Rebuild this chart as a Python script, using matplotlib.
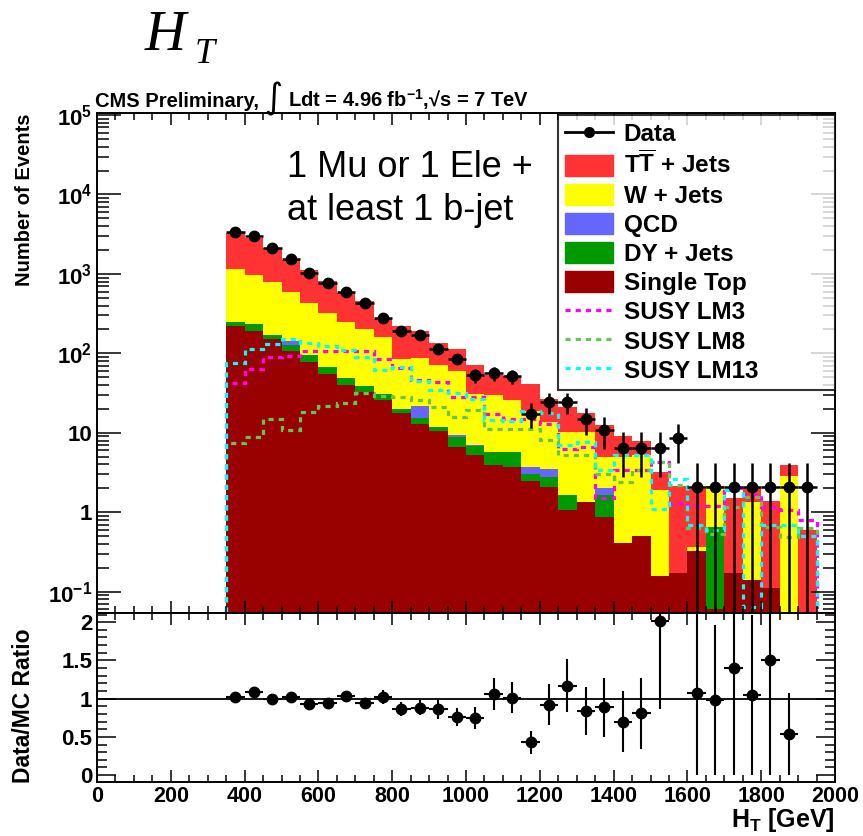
import numpy as np
import matplotlib
matplotlib.use("Agg")
import matplotlib.pyplot as plt
from matplotlib.lines import Line2D
from matplotlib.patches import Patch
from matplotlib.ticker import FixedLocator, LogLocator, MultipleLocator

plt.rcParams.update({
    "font.family": ["Liberation Sans", "DejaVu Sans"],
    "font.weight": "bold",
    "mathtext.fontset": "custom",
    "mathtext.rm": "Liberation Sans:bold",
    "mathtext.bf": "Liberation Sans:bold",
    "mathtext.it": "Liberation Sans:italic:bold",
})

# --- binning (GeV) -------------------------------------------------------------
EDGES = np.arange(350, 1951, 50)
CENTERS = np.arange(375, 1926, 50)

# --- stacked backgrounds, events per bin (bottom -> top) -----------------------
single_top = [220, 190, 150, 107, 78, 55, 40, 33, 26, 18, 13.1, 10.6, 6.6, 5.2, 3.9, 3.7,
              2.48, 2.08, 1.06, 1.35, 0.87, 0.41, 0.51, 0.16, 0.17, 0.33, 0.06, 0.17,
              0.14, 0.11, 0, 0]
dy_jets = [30, 41, 20, 19, 17, 12, 9, 6, 5, 2, 2.1, 1.3, 2.3, 1.6, 1.85, 2.1,
           0.59, 0.7, 0.58, 0, 0.77, 0, 0, 0, 0, 0, 0.59, 0, 0, 0, 0, 0]
qcd = [0, 0, 0, 16, 0, 0, 0, 0, 0, 0, 6.4, 0, 0.4, 0.2, 0, 0,
       0.65, 0.72, 0, 0, 0.41, 0, 0, 0, 0, 0, 0, 0, 0, 0, 0, 0]
w_jets = [900, 749, 625, 443, 341, 251, 196, 166, 131, 66, 66.4, 59.1, 50.7, 24, 24.25, 20.2,
          15.3, 10.2, 8.66, 8.95, 2.92, 4.59, 4.69, 1.77, 0, 0.035, 1.35, 0, 1.21, 0, 2.84, 0]
tt_jets = [2170, 1820, 1315, 925, 684, 492, 323, 255, 108, 136, 105, 63, 53, 40, 23, 25.5,
           21.7, 13, 10.7, 7.6, 7.43, 4.2, 2.8, 1.27, 1.95, 1.585, 0.14, 1.33, 0.65, 1.29,
           1.06, 0.59]

# --- SUSY benchmark points ---------------------------------------------------
lm3 = [42, 63, 90, 92, 107, 107, 107, 107, 85, 65, 46, 44, 28, 28, 17.5, 15, 15, 13,
       6.2, 6.6, 1.5, 3.4, 3.4, 4.3, 1.3, 1.2, 1.2, 2.0, 1.64, 1.17, 1.06, 0.79]
lm8 = [7.5, 8.8, 15, 10.7, 18.3, 22, 23.8, 31.8, 29, 28, 25.7, 21, 15.8, 19.2, 11.3, 11.3,
       11.3, 8.1, 5.2, 5.2, 3.0, 2.4, 3.4, 4.3, 2.2, 0.63, 0.54, 1.17, 1.56, 0.65, 0.49, 0.63]
lm13 = [76, 112, 133, 150, 135, 123, 110, 90, 61, 67, 45, 35, 32, 27, 14.4, 14, 19, 18,
        7, 7.7, 3.4, 5.2, 5.2, 1.1, 2.65, 0.69, 0.59, 1.89, 0.064, 0.69, 0.69, 0.5]

# --- data ---------------------------------------------------------------------
data = [3390, 3030, 2090, 1540, 1040, 760, 585, 436, 275, 191, 170, 115, 86, 53, 56, 52,
        17.5, 24.6, 24.6, 15, 11, 6.45, 6.45, 6.45, 8.5, 2.1, 2.1, 2.1, 2.1, 2.1, 2.1, 2.1]
data_err = [85, 80, 67, 57, 47, 40, 35, 30, 24, 20, 19, 16, 13.5, 10.6, 11, 10.5,
            6.1, 7.2, 7.2, 5.7, 4.8, 3.7, 3.7, 3.7, 4.3, 2.1, 2.1, 2.1, 2.1, 2.1, 2.1, 2.1]

STACK = [("Single Top", single_top, "#990000"),
         ("DY + Jets", dy_jets, "#009900"),
         ("QCD", qcd, "#6666ff"),
         ("W + Jets", w_jets, "#ffff00"),
         (r"T$\overline{\mathbf{T}}$ + Jets", tt_jets, "#ff3333")]
SUSY = [("SUSY LM3", lm3, "#ff00ff"),
        ("SUSY LM8", lm8, "#66c552"),
        ("SUSY LM13", lm13, "#00ffff")]

W, H = 863, 836
fig = plt.figure(figsize=(W / 100, H / 100), dpi=100)
ax = fig.add_axes([97 / W, 1 - 613 / H, 738 / W, 500 / H])
rax = fig.add_axes([97 / W, 1 - 782 / H, 738 / W, 169 / H], sharex=ax)

# stacked histogram
bottom = np.zeros(len(CENTERS))
for name, vals, col in STACK:
    top = bottom + np.asarray(vals, float)
    ax.stairs(top, EDGES, baseline=bottom.copy(), fill=True, color=col, lw=0)
    bottom = top
total = bottom

for name, vals, col in SUSY:
    ax.stairs(vals, EDGES, baseline=0, color=col, lw=2.3, ls=(0, (1.6, 1.6)))

dat = np.asarray(data, float)
derr = np.asarray(data_err, float)
ax.errorbar(CENTERS, dat, yerr=derr, xerr=25, fmt="o", color="k", ms=7.5,
            elinewidth=1.8, capsize=0, zorder=5)

ax.set_yscale("log")
ax.set_xlim(0, 2000)
ax.set_ylim(0.054, 1.06e5)
ax.yaxis.set_major_locator(FixedLocator([0.1, 1, 10, 100, 1e3, 1e4, 1e5]))
ax.set_yticklabels([r"$\mathbf{10^{-1}}$", "1", "10", r"$\mathbf{10^{2}}$",
                    r"$\mathbf{10^{3}}$", r"$\mathbf{10^{4}}$", r"$\mathbf{10^{5}}$"])
ax.yaxis.set_minor_locator(LogLocator(base=10, subs=np.arange(2, 10)))
ax.yaxis.set_minor_formatter(plt.NullFormatter())
ax.tick_params(axis="y", which="major", length=17, width=1.1, labelsize=16)
ax.tick_params(axis="y", which="minor", length=8.5, width=1.1)
ax.tick_params(axis="x", which="both", labelbottom=False)

# ratio panel
ratio = dat / total
rerr = derr / total
show = ratio < 2.12
rax.errorbar(CENTERS[show], ratio[show], yerr=rerr[show], xerr=25, fmt="o", color="k",
             ms=7.5, elinewidth=1.5, capsize=0, zorder=5)
rax.axhline(1, color="k", lw=1.3)
rax.set_ylim(-0.09, 2.12)
rax.set_yticks([0, 0.5, 1, 1.5, 2])
rax.set_yticklabels(["0", "0.5", "1", "1.5", "2"])
rax.yaxis.set_minor_locator(MultipleLocator(0.1))
rax.tick_params(axis="y", which="major", length=14, width=1.1, labelsize=16)
rax.tick_params(axis="y", which="minor", length=7, width=1.1)
rax.set_xticks(range(0, 2001, 200))
rax.xaxis.set_minor_locator(MultipleLocator(50))
rax.tick_params(axis="x", which="major", labelsize=15.5, pad=3)

for a in (ax, rax):
    a.tick_params(which="both", direction="in", top=True, right=True)
    a.tick_params(axis="x", which="major", length=8.6, width=1.1)
    a.tick_params(axis="x", which="minor", length=5, width=1.1)
    for s in a.spines.values():
        s.set_linewidth(1.4)

# labels / annotations
fig.text(24 / W, 1 - 113 / H, "Number of Events", rotation=90, ha="center", va="top",
         fontsize=14.5)
fig.text(24 / W, 1 - 706 / H, "Data/MC Ratio", rotation=90, ha="center", va="center",
         fontsize=16.5)
fig.text(835 / W, 1 - 834 / H, r"H$_{\mathbf{T}}$ [GeV]", ha="right", va="bottom",
         fontsize=18)
fig.text(145 / W, 1 - 50 / H, "H", fontfamily="Liberation Serif", style="italic",
         weight="normal", fontsize=41, va="baseline")
fig.text(195 / W, 1 - 63 / H, "T", fontfamily="Liberation Serif", style="italic",
         weight="normal", fontsize=26, va="baseline")
fig.text(95 / W, 1 - 107 / H, "CMS Preliminary,", fontsize=14.5, va="baseline")
fig.text(264 / W, 1 - 116 / H, "\u222b", fontfamily="DejaVu Sans", weight="normal",
         fontsize=25, va="bottom")
fig.text(288 / W, 1 - 107 / H, "Ldt = 4.96 fb$^{\\mathbf{-1}}$,\u221as = 7 TeV",
         fontsize=14.5, va="baseline")
fig.text(287 / W, 1 - 189 / H, "1 Mu or 1 Ele +\nat least 1 b-jet", ha="left",
         va="center", fontsize=26, weight="normal", linespacing=1.3)

# legend
handles = [Line2D([], [], color="k", marker="o", ms=7, lw=2)]
labels = ["Data"]
for name, vals, col in STACK[::-1]:
    handles.append(Patch(color=col))
    labels.append(name)
for name, vals, col in SUSY:
    handles.append(Line2D([], [], color=col, lw=2.3, ls=(0, (1.6, 1.6))))
    labels.append(name)
leg = fig.legend(handles, labels, loc="upper left",
                 bbox_to_anchor=(558 / W, 1 - 392 / H, 277 / W, 277 / H), mode="expand",
                 fontsize=17.5, frameon=True, fancybox=False, edgecolor="k",
                 handlelength=1.95, handleheight=0.95, labelspacing=0.22,
                 borderpad=0.3, handletextpad=0.45, borderaxespad=0)
leg.get_frame().set_linewidth(1.5)

fig.savefig("out.png", dpi=100)
